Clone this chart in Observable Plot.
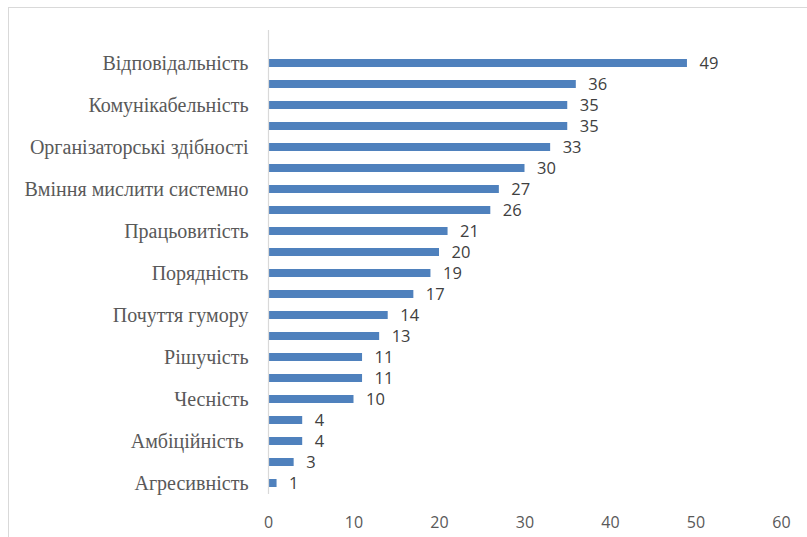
<!DOCTYPE html>
<html>
<head>
<meta charset="utf-8">
<script src="https://cdn.jsdelivr.net/npm/d3@7"></script>
<script src="https://cdn.jsdelivr.net/npm/@observablehq/plot@0.6"></script>
<style>
  html, body { margin: 0; padding: 0; background: #fff; }
  #frame { position: absolute; left: 8px; top: 7px; width: 820px; height: 560px; border: 1px solid #d9d9d9; box-sizing: border-box; }
  #chart { position: absolute; left: 0; top: 0; }
  .yax text { font-family: 'Liberation Serif', 'Times New Roman', serif; font-size: 20px; fill: #595959; }
  .xax text { font-family: 'Open Sans', Lato, sans-serif; font-size: 16px; fill: #595959; }
  .vals text { font-family: 'Open Sans', Lato, sans-serif; font-size: 16.5px; fill: #404040; }
</style>
</head>
<body>
<div id="frame"></div>
<div id="chart"></div>
<script>
// Categories from top to bottom (the top slot is empty in the source chart)
const categories = [
  "top-empty",
  "Відповідальність", "c2",
  "Комунікабельність", "c4",
  "Організаторські здібності", "c6",
  "Вміння мислити системно", "c8",
  "Працьовитість", "c10",
  "Порядність", "c12",
  "Почуття гумору", "c14",
  "Рішучість", "c16",
  "Чесність", "c18",
  "Амбіційність ", "c20",
  "Агресивність"
];
const barCategories = categories.slice(1);
const values = [49, 36, 35, 35, 33, 30, 27, 26, 21, 20, 19, 17, 14, 13, 11, 11, 10, 4, 4, 3, 1];
const xTicks = [0, 10, 20, 30, 40, 50, 60];
const shownLabels = new Set(categories.filter((c, i) => i % 2 === 1));

const data = barCategories.map((c, i) => ({category: c, value: values[i]}));

const chart = Plot.plot({
  width: 807,
  height: 537,
  marginLeft: 268,
  marginRight: 26,
  marginTop: 30,
  marginBottom: 43,
  style: {background: "transparent"},
  x: {domain: [0, 60], ticks: xTicks, label: null},
  y: {domain: categories, paddingInner: 0.63, paddingOuter: 0.315, label: null},
  marks: [
    Plot.barX(data, {x: "value", y: "category", fill: "#4f81bd"}),
    Plot.ruleX([0], {stroke: "#d9d9d9", strokeWidth: 1.2}),
    Plot.text(data, {x: "value", y: "category", text: d => String(d.value), dx: 12, textAnchor: "start",
      className: "vals"}),
    Plot.axisY({tickSize: 0, tickPadding: 20, tickFormat: d => shownLabels.has(d) ? d : "",
      className: "yax"}),
    Plot.axisX({ticks: xTicks, tickSize: 0, tickPadding: 22, label: null, className: "xax"})
  ]
});
document.getElementById("chart").appendChild(chart);
</script>
</body>
</html>
